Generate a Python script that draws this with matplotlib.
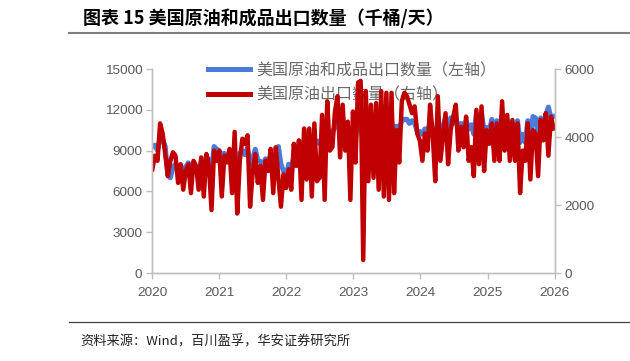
import matplotlib
matplotlib.use("Agg")
import matplotlib.pyplot as plt
import matplotlib.dates as mdates
import pandas as pd
from matplotlib.lines import Line2D

plt.rcParams['font.family'] = ['Liberation Sans', 'Noto Sans CJK SC', 'DejaVu Sans']

# biweekly readings, 2020-01 .. 2025-12 (+1)
total_exports = [  # 美国原油和成品出口数量, 千桶/天 (left axis)
    9300, 9400, 9000, 10000, 9800, 9300, 7200, 7000, 7800, 8000, 7500, 7900, 7200,
    7800, 8100, 7500, 8000, 7800, 7600, 8200, 7600, 8600, 8300, 7400, 9300, 9100,
    9000, 8600, 8800, 8200, 8700, 8000, 8900, 7800, 8800, 9000, 8700, 9200, 8000,
    8400, 9100, 8300, 8200, 8000, 8400, 8100, 8600, 7600, 8700, 9300, 8000, 7500,
    7000, 8000, 7500, 8600, 8500, 9000, 8000, 9500, 9000, 9600, 8600, 9800, 9700,
    9500, 10000, 9000, 10600, 10200, 10300, 10800, 11000, 10300, 10800, 10200, 10500, 9500,
    10600, 10000, 11000, 11200, 9500, 11000, 10000, 10800, 10000, 10800, 9800, 11200, 9800,
    11000, 9800, 11200, 10000, 10800, 10600, 11200, 11300, 11300, 11000, 11200, 11000, 10400,
    10400, 10200, 10600, 10400, 11000, 10600, 10000, 11200, 10300, 10800, 11400, 10400, 11400,
    11000, 11400, 10600, 11000, 10500, 11200, 10600, 10900, 10200, 11700, 10600, 11800, 10400,
    10700, 10400, 11300, 10600, 11200, 10400, 11600, 10700, 11200, 10500, 11000, 10600, 11200,
    9600, 10200, 9600, 11200, 10000, 11500, 11400, 10200, 11400, 10800, 11600, 12200, 11400,
    11500,
]
crude_exports = [  # 美国原油出口数量, 千桶/天 (right axis)
    3050, 3450, 3300, 4400, 4100, 3500, 2850, 3300, 3550, 3450, 2650, 3200, 2450,
    3000, 3200, 2350, 3300, 3150, 2450, 3400, 2250, 3500, 3150, 1850, 3600, 3300,
    3600, 2250, 3450, 3250, 3650, 2350, 4150, 1750, 3300, 3950, 3800, 4050, 1950,
    2950, 3500, 2650, 3150, 2150, 3300, 3000, 3650, 2350, 3700, 2800, 1950, 2900,
    2500, 3050, 2450, 3800, 3150, 3900, 2150, 4250, 2750, 4250, 2250, 4400, 2700,
    2800, 4650, 2150, 5050, 3600, 3700, 4750, 5200, 3400, 4950, 3600, 4450, 2150,
    4750, 3250, 5600, 5650, 380, 5350, 2700, 4950, 2800, 5000, 2450, 5350, 2250,
    5300, 2150, 5300, 2350, 4200, 3250, 5050, 5300, 5200, 4950, 4700, 4900, 4100,
    3900, 3300, 4100, 3600, 4950, 4100, 2700, 5200, 3300, 4000, 4700, 3200, 4200,
    4600, 4950, 3600, 4300, 3700, 4600, 3300, 3700, 2850, 4800, 3200, 4900, 3000,
    4200, 3800, 4400, 3300, 4400, 3300, 5050, 3600, 4650, 3300, 4500, 3300, 4400,
    2350, 3600, 3300, 4400, 2750, 4200, 4100, 2850, 4500, 3900, 4700, 3450, 4600,
    4250,
]
dates = pd.date_range("2020-01-03", periods=len(crude_exports), freq="14D")

title = "图表 15 美国原油和成品出口数量（千桶/天）"
source = "资料来源：Wind，百川盈孚，华安证券研究所"
label_total = "美国原油和成品出口数量（左轴）"
label_crude = "美国原油出口数量（右轴）"

BLUE = "#4a7bd6"
RED = "#c00000"
GRID = "#bfbfbf"
TXT = "#595959"

fig = plt.figure(figsize=(6.3, 3.61), dpi=100)
ax = fig.add_axes([152 / 630, 1 - 273 / 361, 403 / 630, 204 / 361])
ax2 = ax.twinx()

ax.plot(dates, total_exports, color=BLUE, lw=3.6, solid_joinstyle="round")
ax2.plot(dates, crude_exports, color=RED, lw=3.2, solid_joinstyle="round")

ax.set_ylim(0, 15000)
ax.set_yticks(range(0, 15001, 3000))
ax2.set_ylim(0, 6000)
ax2.set_yticks(range(0, 6001, 2000))
ax.set_xlim(pd.Timestamp("2020-01-01"), pd.Timestamp("2026-01-03"))
ax.xaxis.set_major_locator(mdates.YearLocator())
ax.xaxis.set_major_formatter(mdates.DateFormatter("%Y"))

for a in (ax, ax2):
    a.spines["top"].set_visible(False)
    for s in ("left", "right", "bottom"):
        a.spines[s].set_color(GRID)
        a.spines[s].set_linewidth(1.0)
    a.tick_params(colors=GRID, labelcolor=TXT, labelsize=9.7, length=4, width=1.0)
ax.tick_params(axis="x", pad=6)
ax.tick_params(axis="y", pad=3)
ax2.tick_params(axis="y", pad=3)

handles = [Line2D([], [], color=BLUE, lw=3.6), Line2D([], [], color=RED, lw=3.6)]
ax.legend(handles, [label_total, label_crude], loc="upper left",
          bbox_to_anchor=(208 / 630, 1 - 62 / 361), bbox_transform=fig.transFigure,
          frameon=False, borderpad=0, borderaxespad=0, handlelength=2.6,
          handletextpad=0.4, labelspacing=0.45,
          prop={"family": ["Noto Sans CJK SC"], "size": 11.5}, labelcolor="#6a6a6a")

fig.text(83 / 630, 1 - 18 / 361, title, fontsize=13, fontweight="bold",
         va="center", ha="left", family=["Noto Sans CJK SC", "DejaVu Sans"])
fig.add_artist(Line2D([69 / 630, 1], [1 - 32.5 / 361] * 2, color="#808080", lw=1.5))
fig.add_artist(Line2D([69 / 630, 1], [1 - 322 / 361] * 2, color="#404040", lw=0.9))
fig.text(80 / 630, 1 - 342 / 361, source, fontsize=9.5, va="center", ha="left",
         color="#222222", family=["Noto Sans CJK SC", "DejaVu Sans"])

fig.savefig("out.png", dpi=100)
